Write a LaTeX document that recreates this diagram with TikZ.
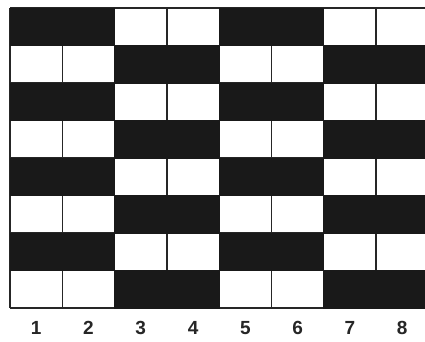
\documentclass[tikz,border=0pt]{standalone}
\usepackage{fontspec}
\setmainfont{Liberation Sans}
\begin{document}
\begin{tikzpicture}[x=1pt,y=-1pt,
  blackblock/.style={fill=black!90,draw=black!90,line width=1pt},
  gridline/.style={draw=black!85,line width=1.3pt},
  num/.style={font=\fontsize{19}{19}\selectfont\bfseries,anchor=center,text=black!85}]
\useasboundingbox (0,0) rectangle (425,341);
\fill[white] (0,0) rectangle (425,341);
\begin{scope}
\clip (0,0) rectangle (425,341);
% grid lines
\foreach \i in {0,...,8}{
  \pgfmathsetmacro{\xx}{10+52.3*\i}
  \draw[gridline] (\xx,8) -- (\xx,308);
}
\foreach \j in {0,...,8}{
  \pgfmathsetmacro{\yy}{8+37.5*\j}
  \draw[gridline] (10,\yy) -- (428.4,\yy);
}
% black blocks
\foreach \j in {0,...,7}{
  \pgfmathsetmacro{\ya}{8+37.5*\j}
  \pgfmathsetmacro{\yb}{8+37.5*(\j+1)}
  \pgfmathtruncatemacro{\myparity}{mod(\j,2)}
  \ifnum\myparity=0
    \draw[blackblock] (10,\ya) rectangle (114.6,\yb);
    \draw[blackblock] (219.2,\ya) rectangle (323.8,\yb);
  \else
    \draw[blackblock] (114.6,\ya) rectangle (219.2,\yb);
    \draw[blackblock] (323.8,\ya) rectangle (428.4,\yb);
  \fi
}
\end{scope}
% column numbers
\foreach \i in {1,...,8}{
  \pgfmathsetmacro{\xx}{10+52.3*(\i-0.5)}
  \node[num] (n\i) at (\xx,328) {\i};
}
\end{tikzpicture}
\end{document}
